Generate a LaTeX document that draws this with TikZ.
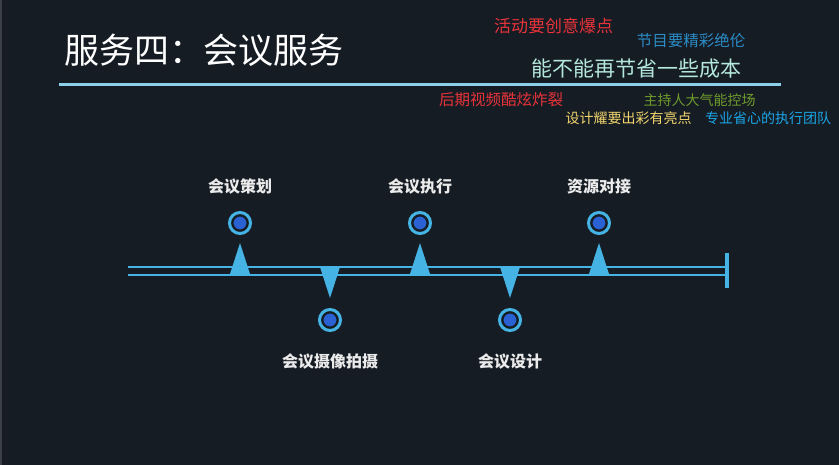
\documentclass[tikz,border=0pt]{standalone}
\usepackage{fontspec}
\setmainfont{Noto Sans CJK SC}
\usepackage{tikz}
\usetikzlibrary{positioning}
\definecolor{bgdark}{HTML}{161C24}
\definecolor{edgegray}{HTML}{3A3F48}
\definecolor{lineblue}{HTML}{8CCFE8}
\definecolor{tlblue}{HTML}{45B4E4}
\definecolor{dotblue}{HTML}{2A62D4}
\definecolor{hotred}{HTML}{E8333A}
\definecolor{showblue}{HTML}{2B8CC6}
\definecolor{mint}{HTML}{B4E8DC}
\definecolor{olive}{HTML}{6E9B2C}
\definecolor{gold}{HTML}{F2D56E}
\definecolor{teamblue}{HTML}{1BA5E6}

\begin{document}
\begin{tikzpicture}[
  x=1pt, y=-1pt,
  bigtitle/.style={font=\fontsize{35}{40}\selectfont, text=white, inner sep=0pt},
  slogan/.style={inner sep=0pt},
  stage/.style={font=\fontsize{16}{18}\selectfont\bfseries, text=white!92!black, inner sep=0pt},
  ring/.style={circle, draw=tlblue, line width=3pt, fill=bgdark, minimum size=21pt, inner sep=0pt},
  dot/.style={circle, draw=bgdark, line width=1pt, fill=dotblue, minimum size=14pt, inner sep=0pt},
  tl line/.style={draw=tlblue, line width=1.2pt}
]
  % Background and left edge
  \fill[bgdark] (0,0) rectangle (839,465);
  \fill[edgegray] (0,0) rectangle (2,465);

  % Title and underline
  \node[bigtitle] (title) at (204,50) {服务四：会议服务};
  \coordinate (rule-l) at (59,84.5);
  \coordinate (rule-r) at (781,84.5);
  \draw[lineblue, line width=3pt] (rule-l) -- (rule-r);

  % Floating slogans
  \node[slogan, font=\fontsize{17}{20}\selectfont, text=hotred] (s1) at (553.5,25.5) {活动要创意爆点};
  \node[slogan, font=\fontsize{15.5}{18}\selectfont, text=showblue] (s2) at (691,41) {节目要精彩绝伦};
  \node[slogan, font=\fontsize{21}{24}\selectfont, text=mint] (s3) at (636.5,68.5) {能不能再节省一些成本};
  \node[slogan, font=\fontsize{15.5}{18}\selectfont, text=hotred] (s4) at (501,100) {后期视频酷炫炸裂};
  \node[slogan, font=\fontsize{14}{16}\selectfont, text=olive] (s5) at (699.5,100.5) {主持人大气能控场};
  \node[slogan, font=\fontsize{14}{16}\selectfont, text=gold] (s6) at (628.5,118) {设计耀要出彩有亮点};
  \node[slogan, font=\fontsize{14}{16}\selectfont, text=teamblue] (s7) at (768,118) {专业省心的执行团队};

  % Timeline rails and end bar
  \coordinate (rail-a1) at (128,267);
  \coordinate (rail-a2) at (727,267);
  \coordinate (rail-b1) at (128,275);
  \coordinate (rail-b2) at (727,275);
  \draw[tl line] (rail-a1) -- (rail-a2);
  \draw[tl line] (rail-b1) -- (rail-b2);
  \coordinate (bar-top) at (727,253);
  \coordinate (bar-bot) at (727,288);
  \draw[tlblue, line width=3.5pt] (bar-top) -- (bar-bot);

  % Milestones
  \foreach \n/\x/\by/\ay/\cy/\ly/\txt in {
      a/240/274/243/223/186/会议策划,
      b/330/267/298/320/361/会议摄像拍摄,
      c/420/274/243/223/186/会议执行,
      d/510/267/298/320/361/会议设计,
      e/599/274/243/223/186/资源对接}{
    \fill[tlblue] (\x-10,\by) -- (\x,\ay) -- (\x+10,\by) -- cycle;
    \node[ring] (ring-\n) at (\x,\cy) {};
    \node[dot] (dot-\n) at (ring-\n) {};
    \node[stage] (stage-\n) at (\x,\ly) {\txt};
  }

\end{tikzpicture}
\end{document}
